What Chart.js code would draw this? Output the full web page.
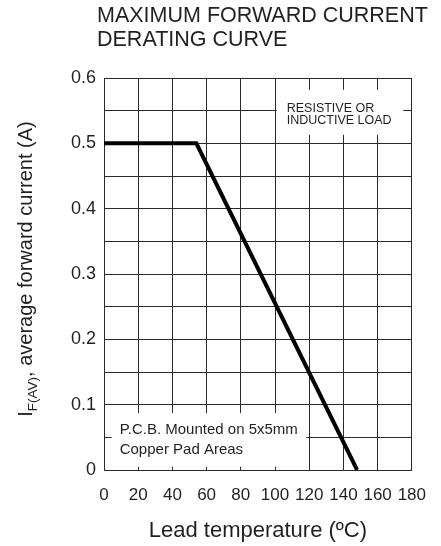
<!DOCTYPE html>
<html lang="en">
<head>
<meta charset="UTF-8">
<title>Maximum Forward Current Derating Curve</title>
<script src="https://cdn.jsdelivr.net/npm/chart.js"></script>
<style>
    html, body { margin: 0; padding: 0; background: #fff; }
    #wrap { width: 441px; height: 546px; }
</style>
</head>
<body>
<div id="wrap"><canvas id="derating" width="441" height="546"></canvas></div>
<script>
// curve
const leadTemp = [0, 54, 148];        // deg C
const forwardCurrent = [0.5, 0.5, 0]; // A
const xTickLabels = [0, 20, 40, 60, 80, 100, 120, 140, 160, 180];
const yTickLabels = [0, 0.1, 0.2, 0.3, 0.4, 0.5, 0.6];

const ink = '#231f20';
const gridInk = '#2a2a2a';
const FONT = 'Liberation Sans, Arial, Helvetica, sans-serif';

// white label boxes sitting on the grid (data units)
const notes = [
    { x0: 101, x1: 175, y0: 0.582, y1: 0.513, size: 12.5, dx: 10, lines: [['RESISTIVE OR', 22], ['INDUCTIVE LOAD', 34.5]] },
    { x0: 4.5, x1: 118.3, y0: 0.087, y1: 0.005, size: 15, dx: 8, lines: [['P.C.B. Mounted on 5x5mm', 21.3], ['Copper Pad Areas', 41.3]] }
];

const notesPlugin = {
    id: 'notes',
    beforeDatasetsDraw(chart) {
        const { ctx, scales: { x, y } } = chart;
        ctx.save();
        notes.forEach(n => {
            const left = x.getPixelForValue(n.x0), right = x.getPixelForValue(n.x1);
            const top = y.getPixelForValue(n.y0), bottom = y.getPixelForValue(n.y1);
            ctx.fillStyle = '#fff';
            ctx.fillRect(left, top, right - left, bottom - top);
            ctx.fillStyle = ink;
            ctx.font = n.size + 'px ' + FONT;
            ctx.textBaseline = 'alphabetic';
            ctx.textAlign = 'left';
            n.lines.forEach(([txt, dy]) => ctx.fillText(txt, left + n.dx, top + dy));
        });
        ctx.restore();
    }
};

// heading + y title (needs a subscript, so drawn by hand)
const labelsPlugin = {
    id: 'labels',
    afterDraw(chart) {
        const { ctx } = chart;
        ctx.save();
        ctx.fillStyle = ink;
        ctx.textAlign = 'left';
        ctx.textBaseline = 'alphabetic';
        ctx.font = '21.5px ' + FONT;
        ctx.fillText('MAXIMUM FORWARD CURRENT', 97, 22);
        ctx.fillText('DERATING CURVE', 97, 45.5);

        const main = '20px ' + FONT, sub = '13.5px ' + FONT;
        const rest = ', average forward current (A)';
        ctx.font = main;
        const wI = ctx.measureText('I').width;
        const wRest = ctx.measureText(rest).width;
        ctx.font = sub;
        const wSub = ctx.measureText('F(AV)').width;
        const total = wI + wSub + wRest;
        ctx.translate(32, 269);
        ctx.rotate(-Math.PI / 2);
        let px = -total / 2;
        ctx.font = main;
        ctx.fillText('I', px, 0);
        px += wI;
        ctx.font = sub;
        ctx.fillText('F(AV)', px, 5);
        px += wSub;
        ctx.font = main;
        ctx.fillText(rest, px, 0);
        ctx.restore();
    }
};

const points = leadTemp.map((t, i) => ({ x: t, y: forwardCurrent[i] }));

new Chart(document.getElementById('derating'), {
    type: 'line',
    data: {
        datasets: [{
            data: points,
            borderColor: '#000',
            borderWidth: 4,
            pointRadius: 0,
            tension: 0,
            borderJoinStyle: 'miter',
            fill: false
        }]
    },
    options: {
        responsive: false,
        animation: false,
        events: [],
        layout: { padding: { top: 78, right: 19, bottom: 0, left: 0 } },
        plugins: { legend: { display: false }, title: { display: false }, tooltip: { enabled: false } },
        scales: {
            x: {
                type: 'linear',
                min: xTickLabels[0],
                max: xTickLabels[xTickLabels.length - 1],
                afterBuildTicks: s => { s.ticks = xTickLabels.map(v => ({ value: v })); },
                afterFit: s => { s.height = 76; },
                ticks: { color: ink, font: { family: FONT, size: 17 }, padding: 15, maxRotation: 0, autoSkip: false },
                grid: { color: gridInk, lineWidth: 1, drawTicks: false },
                border: { color: gridInk, width: 1 },
                title: { display: true, text: 'Lead temperature (ºC)', color: ink, font: { family: FONT, size: 22 }, padding: { top: 0, bottom: 2 } }
            },
            y: {
                min: 0,
                max: 0.6,
                ticks: {
                    stepSize: 0.05,
                    autoSkip: false,
                    color: ink,
                    font: { family: FONT, size: 18 },
                    padding: 8,
                    callback: v => {
                        const hit = yTickLabels.find(t => Math.abs(t - v) < 1e-6);
                        return hit === undefined ? '' : String(hit);
                    }
                },
                afterFit: s => { s.width = 104; },
                grid: { color: gridInk, lineWidth: 1, drawTicks: false },
                border: { color: gridInk, width: 1 }
            }
        }
    },
    plugins: [notesPlugin, labelsPlugin]
});
</script>
</body>
</html>
